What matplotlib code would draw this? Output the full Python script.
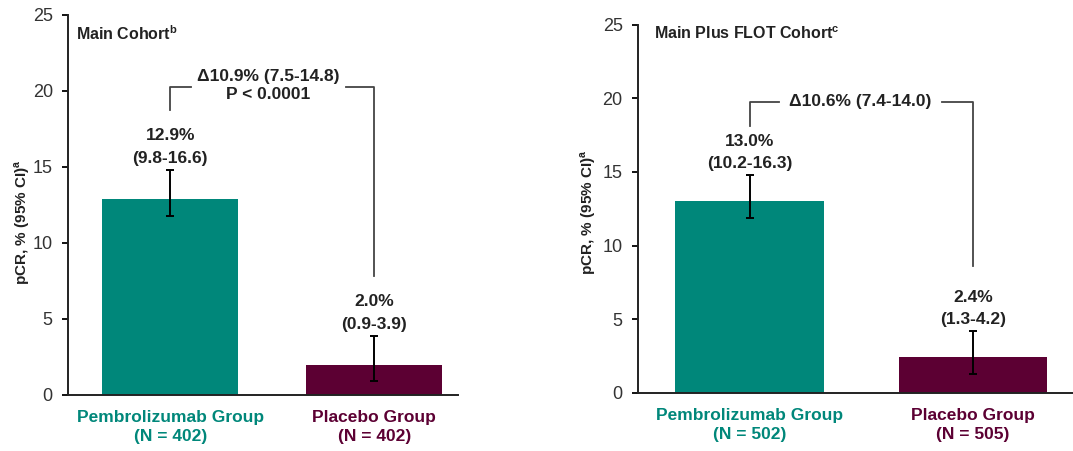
import matplotlib.pyplot as plt

plt.rcParams['font.family'] = ['Liberation Sans', 'DejaVu Sans']
plt.rcParams['mathtext.fontset'] = 'custom'
plt.rcParams['mathtext.rm'] = 'Liberation Sans'
plt.rcParams['mathtext.bf'] = 'Liberation Sans:bold'

# pCR rates per cohort
groups = ["Pembrolizumab Group", "Placebo Group"]
main_n = [402, 402]
main_pcr = [12.9, 2.0]
main_ci_text = ["(9.8-16.6)", "(0.9-3.9)"]
main_err_low = [11.8, 0.9]
main_err_high = [14.8, 3.9]
main_delta = "Δ10.9% (7.5-14.8)\nP < 0.0001"

flot_n = [502, 505]
flot_pcr = [13.0, 2.4]
flot_ci_text = ["(10.2-16.3)", "(1.3-4.2)"]
flot_err_low = [11.9, 1.3]
flot_err_high = [14.8, 4.2]
flot_delta = "Δ10.6% (7.4-14.0)"

TEAL = "#00877a"
MAROON = "#5c0033"
TXT = "#222222"
colors = [TEAL, MAROON]

fig = plt.figure(figsize=(10.73, 4.51), dpi=100)
ax1 = fig.add_axes([0.0634, 0.1242, 0.3635, 0.8426])
ax2 = fig.add_axes([0.5946, 0.1292, 0.4054, 0.8160])


def draw_panel(ax, title, title_pos, n, pcr, ci_text, lo, hi, delta, xlim,
               brk, label_y):
    x = [0, 1]
    ax.bar(x, pcr, width=0.665, color=colors, zorder=2)
    yerr = [[p - l for p, l in zip(pcr, lo)], [h - p for p, h in zip(pcr, hi)]]
    ax.errorbar(x, pcr, yerr=yerr, fmt='none', ecolor='black', elinewidth=1.4,
                capsize=3, capthick=1.4, zorder=3)

    ax.set_xlim(*xlim)
    ax.set_ylim(0, 25)
    ax.set_yticks([0, 5, 10, 15, 20, 25])
    ax.tick_params(axis='y', direction='out', length=4, width=1.3, pad=7,
                   labelsize=13, labelcolor='#333333')
    ax.set_xticks(x)
    ax.set_xticklabels([f"{g}\n(N = {v})" for g, v in zip(groups, n)],
                       fontsize=12.5, fontweight='bold', linespacing=1.35)
    for lbl, c in zip(ax.get_xticklabels(), colors):
        lbl.set_color(c)
    ax.tick_params(axis='x', length=0, pad=11)

    for s in ['top', 'right']:
        ax.spines[s].set_visible(False)
    for s in ['left', 'bottom']:
        ax.spines[s].set_linewidth(1.4)
        ax.spines[s].set_color('#222222')

    ax.set_ylabel(r"pCR, % (95% CI)$^\mathbf{a}$", fontsize=11,
                  fontweight='bold', color=TXT)
    ax.yaxis.set_label_coords(-0.092, label_y)

    ax.text(title_pos[0], title_pos[1], title, fontsize=11.5,
            fontweight='bold', va='center', ha='left', color=TXT)

    # value and CI above each bar
    for xi, p, ct, h in zip(x, pcr, ci_text, hi):
        ax.text(xi, h + 0.75, ct, ha='center', va='center', fontsize=12.5,
                fontweight='bold', color=TXT)
        ax.text(xi, h + 2.25, f"{p:.1f}%", ha='center', va='center',
                fontsize=12.5, fontweight='bold', color=TXT)

    # comparison bracket
    y_left, y_top, y_right, gap_l, gap_r, ty = brk
    lc = '#444444'
    ax.plot([0, 0, gap_l], [y_left, y_top, y_top], color=lc, lw=1.3)
    ax.plot([gap_r, 1, 1], [y_top, y_top, y_right], color=lc, lw=1.3)
    ax.text((gap_l + gap_r) / 2, ty, delta, ha='center', va='center',
            fontsize=12.5, fontweight='bold', color=TXT, linespacing=1.3)


draw_panel(ax1, r"Main Cohort$^\mathbf{b}$", (-0.46, 23.8), main_n,
           main_pcr, main_ci_text, main_err_low, main_err_high, main_delta,
           (-0.5, 1.41), (18.75, 20.25, 7.8, 0.1, 0.86, 20.35), 0.455)
draw_panel(ax2, r"Main Plus FLOT Cohort$^\mathbf{c}$", (-0.43, 24.4),
           flot_n, flot_pcr, flot_ci_text, flot_err_low, flot_err_high,
           flot_delta, (-0.5, 1.447), (18.1, 19.75, 8.6, 0.13, 0.86, 19.8),
           0.49)

fig.savefig("out.png", dpi=100)
